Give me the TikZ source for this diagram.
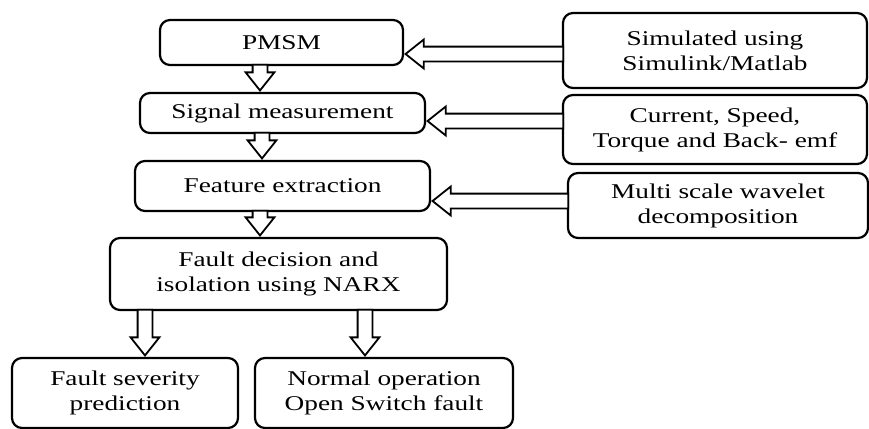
\documentclass[tikz,border=0pt]{standalone}
\usepackage{fontspec}
\setmainfont{Liberation Serif}[FakeStretch=1.3]
\usepackage{tikz}
\usetikzlibrary{calc, shapes.arrows}
\tikzset{
  box/.style={draw, line width=1.1pt, rounded corners=5pt, align=center, inner sep=0pt,
    font=\fontsize{10.5}{12.5}\selectfont},
  fatarr/.style={draw, line width=0.9pt, fill=white, single arrow, inner xsep=0pt, inner ysep=3.25pt,
    single arrow head extend=3.5pt, single arrow tip angle=77, anchor=tip}
}
\newcommand{\fatarrow}[2]{%
  \path let \p1=(#1), \p2=(#2), \n1={veclen(\x2-\x1,\y2-\y1)}, \n2={atan2(\y2-\y1,\x2-\x1)} in
    node[fatarr, minimum height=\n1, rotate=\n2] at (\p2) {};}

\begin{document}
\begin{tikzpicture}[x=0.5pt, y=-0.5pt]
  \useasboundingbox (0,0) rectangle (869,429);
  \node[box, minimum width=121.5pt, minimum height=22.5pt] (pmsm) at (281.5,42.5) {PMSM};
  \node[box, minimum width=142.5pt, minimum height=20pt] (sig) at (282.5,113) {Signal measurement};
  \node[box, minimum width=147.5pt, minimum height=25pt] (feat) at (282.5,186) {Feature extraction};
  \node[box, minimum width=168.5pt, minimum height=36pt] (dec) at (278.5,274) {Fault decision and\\isolation using NARX};
  \node[box, minimum width=113pt, minimum height=35pt] (sev) at (125,393) {Fault severity\\prediction};
  \node[box, minimum width=129pt, minimum height=35pt] (norm) at (384,393) {Normal operation\\Open Switch fault};
  \node[box, minimum width=152pt, minimum height=37.5pt] (sim) at (715,50.5) {Simulated using\\Simulink/Matlab};
  \node[box, minimum width=152pt, minimum height=34.5pt] (cur) at (715,129.5) {Current, Speed,\\Torque and Back- emf};
  \node[box, minimum width=150pt, minimum height=32.5pt] (multi) at (718,205.5) {Multi scale wavelet\\decomposition};

  \fatarrow{$(sim.west)+(0,3.5)$}{$(pmsm.east)+(0,11.5)$}
  \fatarrow{$(cur.west)+(0,-8.5)$}{$(sig.east)+(0,8)$}
  \fatarrow{$(multi.west)+(0,-4.5)$}{$(feat.east)+(0,15)$}
  \fatarrow{$(pmsm.south)+(-21.5,0)$}{$(sig.north)+(-22.5,0)$}
  \fatarrow{$(sig.south)+(-20.5,0)$}{$(feat.north)+(-20.5,0)$}
  \fatarrow{$(feat.south)+(-22.5,0)$}{$(dec.north)+(-18.5,0)$}
  \fatarrow{$(dec.south)+(-133.5,0)$}{$(sev.north)+(20,0)$}
  \fatarrow{$(dec.south)+(86.5,0)$}{$(norm.north)+(-19,0)$}
\end{tikzpicture}
\end{document}
